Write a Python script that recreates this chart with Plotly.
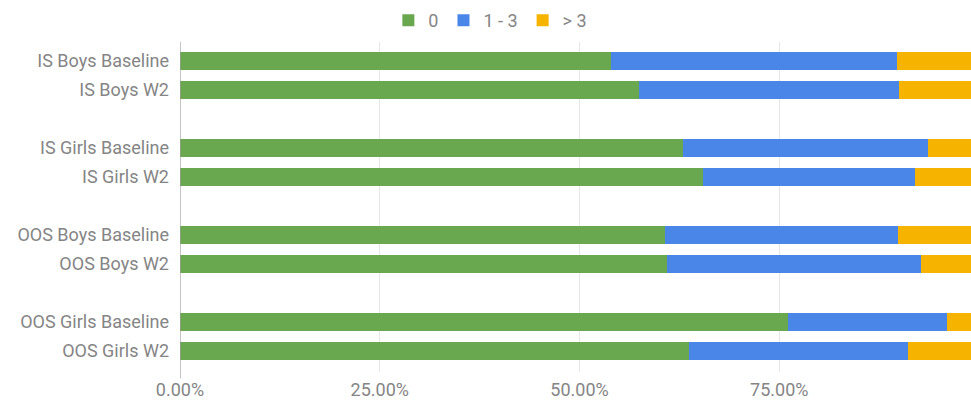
import plotly.graph_objects as go

# Survey groups, top to bottom
categories = [
    "IS Boys Baseline", "IS Boys W2",
    "IS Girls Baseline", "IS Girls W2",
    "OOS Boys Baseline", "OOS Boys W2",
    "OOS Girls Baseline", "OOS Girls W2",
]

# Share of respondents in each response band
share_0 = [0.539, 0.574, 0.629, 0.654, 0.607, 0.610, 0.761, 0.637]
share_1_3 = [0.359, 0.326, 0.307, 0.266, 0.292, 0.318, 0.199, 0.274]
share_gt3 = [0.102, 0.100, 0.064, 0.080, 0.101, 0.072, 0.040, 0.089]

series_names = ["0", "1 - 3", "> 3"]
series_colors = ["#6aa84f", "#4a86e8", "#f6b400"]

x_ticks = [0, 0.25, 0.5, 0.75]
x_tick_text = ["0.00%", "25.00%", "50.00%", "75.00%"]

# Pairs of rows are separated by one empty slot
y_pos = [i + i // 2 for i in range(len(categories))]

fig = go.Figure()
for name, values, color in zip(series_names, [share_0, share_1_3, share_gt3], series_colors):
    fig.add_trace(go.Bar(
        x=values, y=y_pos, name=name, orientation="h",
        marker=dict(color=color, line=dict(width=0)),
        width=0.64,
    ))

font_family = "Roboto, Arial, sans-serif"
text_color = "#858585"
fig.update_layout(
    barmode="stack",
    width=971, height=403,
    margin=dict(l=180, r=0, t=42, b=31),
    paper_bgcolor="white", plot_bgcolor="white",
    font=dict(family=font_family, size=18, color=text_color),
    showlegend=True,
    legend=dict(
        orientation="h", x=0.505, xref="container", xanchor="center",
        y=0.995, yref="container", yanchor="top",
        font=dict(size=18, color=text_color),
        itemwidth=30, traceorder="normal",
    ),
    xaxis=dict(
        range=[0, 0.99], tickvals=x_ticks, ticktext=x_tick_text,
        showgrid=True, gridcolor="#e6e6e6", gridwidth=1,
        zeroline=False, showline=False, ticks="",
        ticklabelstandoff=5,
        tickfont=dict(size=18, color=text_color),
        fixedrange=True,
    ),
    yaxis=dict(
        range=[10.72, -0.65], tickvals=y_pos, ticktext=categories,
        showgrid=False, zeroline=False, showline=False, ticks="",
        ticklabelstandoff=10,
        tickfont=dict(size=18, color=text_color),
        fixedrange=True,
    ),
)

# Baseline at zero share drawn as the vertical axis line
fig.add_shape(type="line", xref="x", yref="paper", x0=0, x1=0, y0=-0.02, y1=1,
              line=dict(color="#9e9e9e", width=1.2), layer="above")

fig.write_html("out.html")
